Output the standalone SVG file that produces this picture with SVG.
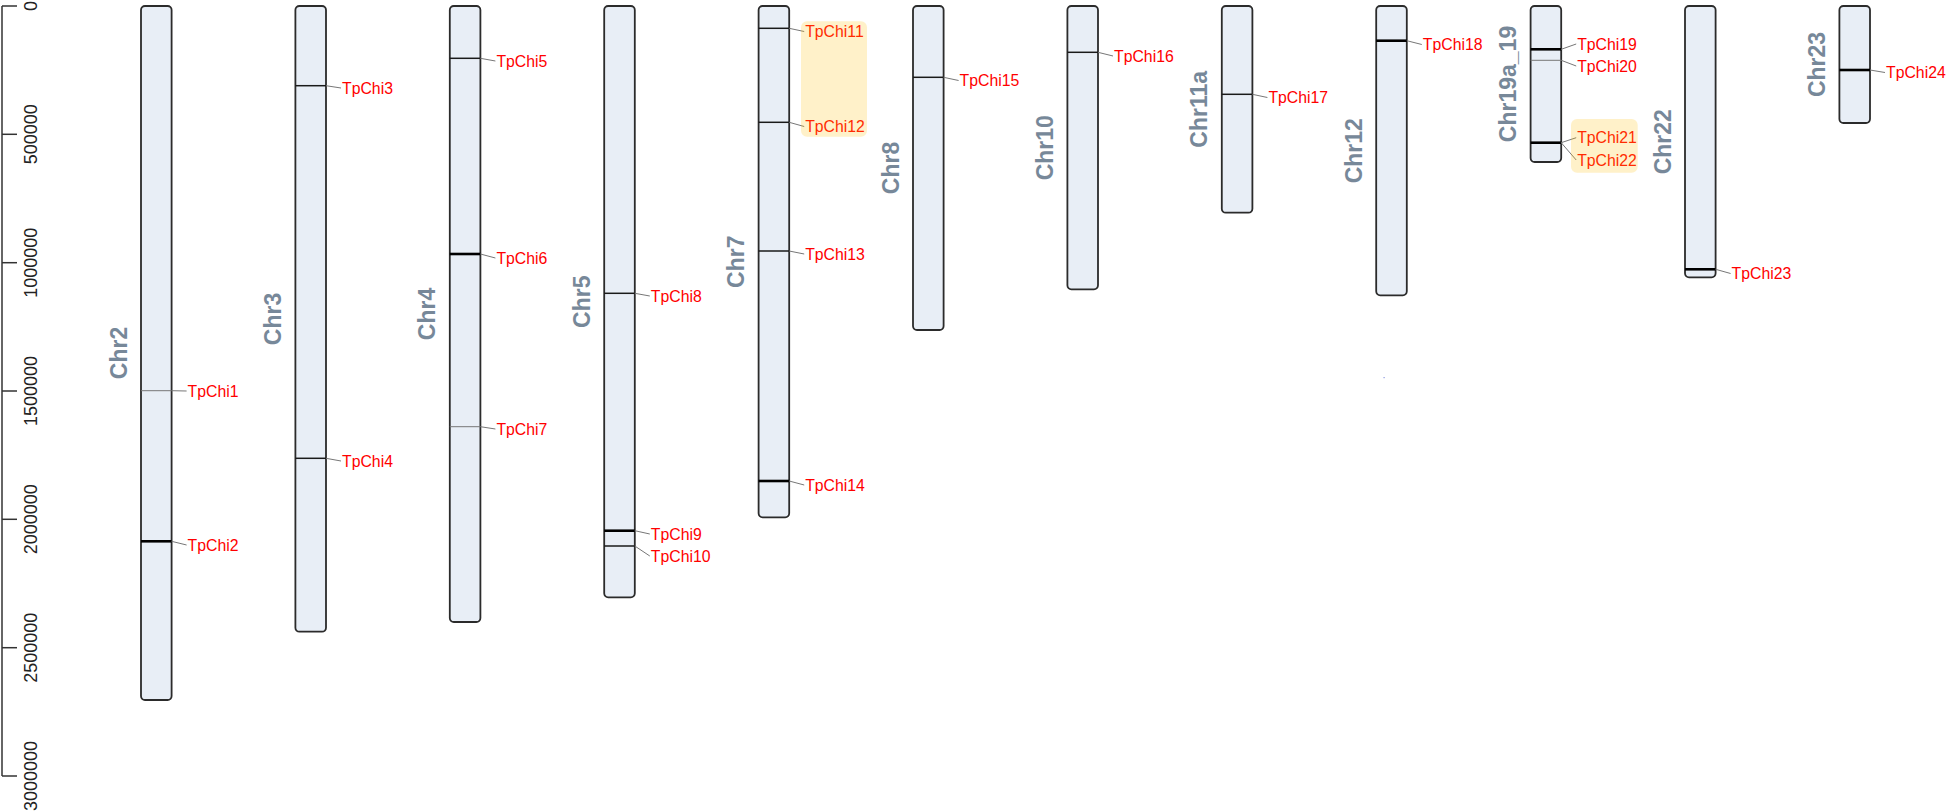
<svg xmlns="http://www.w3.org/2000/svg" width="1946" height="812" viewBox="0 0 1946 812">
<style>
.chr{fill:#e8eef6;stroke:#2b2b2b;stroke-width:1.8}
.cl{font-family:"Liberation Sans",Arial,sans-serif;font-weight:bold;font-size:23px;fill:#778899;text-anchor:middle}
.gl{font-family:"Liberation Sans",Arial,sans-serif;font-size:15.8px;fill:#ff0000}
.ax{font-family:"Liberation Sans",Arial,sans-serif;font-size:18px;fill:#222;text-anchor:middle}
.bt{stroke:#000;stroke-width:2.6}
.bm{stroke:#1a1a1a;stroke-width:1.5}
.bs{stroke:#777;stroke-width:1}
.con{stroke:#777;stroke-width:1;fill:none}
.hl{fill:#ffc107;fill-opacity:0.22}
</style>
<g id="axis" stroke="#333" stroke-width="1.5" fill="none">
<line x1="2" y1="6" x2="2" y2="776"/>
<line x1="2" y1="6" x2="17" y2="6"/>
<line x1="2" y1="134.3" x2="17" y2="134.3"/>
<line x1="2" y1="262.7" x2="17" y2="262.7"/>
<line x1="2" y1="391" x2="17" y2="391"/>
<line x1="2" y1="519.3" x2="17" y2="519.3"/>
<line x1="2" y1="647.7" x2="17" y2="647.7"/>
<line x1="2" y1="776" x2="17" y2="776"/>
</g>
<g id="axis-labels">
<text class="ax" transform="translate(37,6) rotate(-90)">0</text>
<text class="ax" transform="translate(37,134.3) rotate(-90)">500000</text>
<text class="ax" transform="translate(37,262.7) rotate(-90)">1000000</text>
<text class="ax" transform="translate(37,391) rotate(-90)">1500000</text>
<text class="ax" transform="translate(37,519.3) rotate(-90)">2000000</text>
<text class="ax" transform="translate(37,647.7) rotate(-90)">2500000</text>
<text class="ax" transform="translate(37,776) rotate(-90)">3000000</text>
</g>
<g id="chr2">
<rect class="chr" x="141" y="6" width="30.6" height="694" rx="4"/>
<text class="cl" transform="translate(126.5,353) rotate(-90)">Chr2</text>
<line class="bs" x1="141" y1="390.7" x2="171.6" y2="390.7"/>
<line class="bt" x1="141" y1="541.3" x2="171.6" y2="541.3"/>
<text class="gl" x="187.6" y="396.5">TpChi1</text>
<text class="gl" x="187.6" y="550.5">TpChi2</text>
</g>
<g id="chr3">
<rect class="chr" x="295.4" y="6" width="30.6" height="625.7" rx="4"/>
<text class="cl" transform="translate(280.9,319) rotate(-90)">Chr3</text>
<line class="bm" x1="295.4" y1="85.7" x2="326" y2="85.7"/>
<line class="bm" x1="295.4" y1="458.3" x2="326" y2="458.3"/>
<text class="gl" x="342" y="93.5">TpChi3</text>
<text class="gl" x="342" y="466.5">TpChi4</text>
</g>
<g id="chr4">
<rect class="chr" x="449.8" y="6" width="30.6" height="616" rx="4"/>
<text class="cl" transform="translate(435.3,314) rotate(-90)">Chr4</text>
<line class="bm" x1="449.8" y1="58.3" x2="480.4" y2="58.3"/>
<line class="bt" x1="449.8" y1="254" x2="480.4" y2="254"/>
<line class="bs" x1="449.8" y1="426.7" x2="480.4" y2="426.7"/>
<text class="gl" x="496.4" y="66.5">TpChi5</text>
<text class="gl" x="496.4" y="263.5">TpChi6</text>
<text class="gl" x="496.4" y="434.5">TpChi7</text>
</g>
<g id="chr5">
<rect class="chr" x="604.2" y="6" width="30.6" height="591.3" rx="4"/>
<text class="cl" transform="translate(589.7,301.7) rotate(-90)">Chr5</text>
<line class="bm" x1="604.2" y1="293.3" x2="634.8" y2="293.3"/>
<line class="bt" x1="604.2" y1="530.7" x2="634.8" y2="530.7"/>
<line class="bm" x1="604.2" y1="546" x2="634.8" y2="546"/>
<text class="gl" x="650.8" y="301.5">TpChi8</text>
<text class="gl" x="650.8" y="539.5">TpChi9</text>
<text class="gl" x="650.8" y="561.5">TpChi10</text>
</g>
<g id="chr7">
<rect class="chr" x="758.6" y="6" width="30.6" height="511.3" rx="4"/>
<text class="cl" transform="translate(744.1,261.7) rotate(-90)">Chr7</text>
<line class="bm" x1="758.6" y1="28.3" x2="789.2" y2="28.3"/>
<line class="bm" x1="758.6" y1="122.3" x2="789.2" y2="122.3"/>
<line class="bm" x1="758.6" y1="251" x2="789.2" y2="251"/>
<line class="bt" x1="758.6" y1="481" x2="789.2" y2="481"/>
<text class="gl" x="805.2" y="37">TpChi11</text>
<text class="gl" x="805.2" y="132">TpChi12</text>
<text class="gl" x="805.2" y="259.5">TpChi13</text>
<text class="gl" x="805.2" y="490.5">TpChi14</text>
</g>
<g id="chr8">
<rect class="chr" x="913" y="6" width="30.6" height="324" rx="4"/>
<text class="cl" transform="translate(898.5,168) rotate(-90)">Chr8</text>
<line class="bm" x1="913" y1="77.3" x2="943.6" y2="77.3"/>
<text class="gl" x="959.6" y="86">TpChi15</text>
</g>
<g id="chr10">
<rect class="chr" x="1067.4" y="6" width="30.6" height="283.3" rx="4"/>
<text class="cl" transform="translate(1052.9,147.7) rotate(-90)">Chr10</text>
<line class="bm" x1="1067.4" y1="52.3" x2="1098" y2="52.3"/>
<text class="gl" x="1114" y="61.5">TpChi16</text>
</g>
<g id="chr11a">
<rect class="chr" x="1221.8" y="6" width="30.6" height="206.7" rx="4"/>
<text class="cl" transform="translate(1207.3,109.3) rotate(-90)">Chr11a</text>
<line class="bm" x1="1221.8" y1="94.3" x2="1252.4" y2="94.3"/>
<text class="gl" x="1268.4" y="103">TpChi17</text>
</g>
<g id="chr12">
<rect class="chr" x="1376.2" y="6" width="30.6" height="289.3" rx="4"/>
<text class="cl" transform="translate(1361.7,150.7) rotate(-90)">Chr12</text>
<line class="bt" x1="1376.2" y1="40.7" x2="1406.8" y2="40.7"/>
<text class="gl" x="1422.8" y="50">TpChi18</text>
</g>
<g id="chr19a_19">
<rect class="chr" x="1530.6" y="6" width="30.6" height="156" rx="4"/>
<text class="cl" transform="translate(1516.1,84) rotate(-90)">Chr19a_19</text>
<line class="bt" x1="1530.6" y1="49.3" x2="1561.2" y2="49.3"/>
<line class="bs" x1="1530.6" y1="60.3" x2="1561.2" y2="60.3"/>
<line class="bt" x1="1530.6" y1="142.7" x2="1561.2" y2="142.7"/>
<text class="gl" x="1577.2" y="49.5">TpChi19</text>
<text class="gl" x="1577.2" y="71.5">TpChi20</text>
<text class="gl" x="1577.2" y="143.2">TpChi21</text>
<text class="gl" x="1577.2" y="165.5">TpChi22</text>
</g>
<g id="chr22">
<rect class="chr" x="1685" y="6" width="30.6" height="271.3" rx="4"/>
<text class="cl" transform="translate(1670.5,141.7) rotate(-90)">Chr22</text>
<line class="bt" x1="1685" y1="269.3" x2="1715.6" y2="269.3"/>
<text class="gl" x="1731.6" y="279">TpChi23</text>
</g>
<g id="chr23">
<rect class="chr" x="1839.4" y="6" width="30.6" height="117" rx="4"/>
<text class="cl" transform="translate(1824.9,64.5) rotate(-90)">Chr23</text>
<line class="bt" x1="1839.4" y1="70" x2="1870" y2="70"/>
<text class="gl" x="1886" y="78">TpChi24</text>
</g>
<g id="connectors">
<line class="con" x1="171.6" y1="390.7" x2="186.6" y2="391"/>
<line class="con" x1="171.6" y1="541.3" x2="186.6" y2="545"/>
<line class="con" x1="326" y1="85.7" x2="341" y2="88"/>
<line class="con" x1="326" y1="458.3" x2="341" y2="461"/>
<line class="con" x1="480.4" y1="58.3" x2="495.4" y2="61"/>
<line class="con" x1="480.4" y1="254" x2="495.4" y2="258"/>
<line class="con" x1="480.4" y1="426.7" x2="495.4" y2="429"/>
<line class="con" x1="634.8" y1="293.3" x2="649.8" y2="296"/>
<line class="con" x1="634.8" y1="530.7" x2="649.8" y2="534"/>
<line class="con" x1="634.8" y1="546" x2="649.8" y2="556"/>
<line class="con" x1="789.2" y1="28.3" x2="804.2" y2="31.5"/>
<line class="con" x1="789.2" y1="122.3" x2="804.2" y2="126.5"/>
<line class="con" x1="789.2" y1="251" x2="804.2" y2="254"/>
<line class="con" x1="789.2" y1="481" x2="804.2" y2="485"/>
<line class="con" x1="943.6" y1="77.3" x2="958.6" y2="80.5"/>
<line class="con" x1="1098" y1="52.3" x2="1113" y2="56"/>
<line class="con" x1="1252.4" y1="94.3" x2="1267.4" y2="97.5"/>
<line class="con" x1="1406.8" y1="40.7" x2="1421.8" y2="44.5"/>
<line class="con" x1="1561.2" y1="49.3" x2="1576.2" y2="44"/>
<line class="con" x1="1561.2" y1="60.3" x2="1576.2" y2="66"/>
<line class="con" x1="1561.2" y1="142.7" x2="1576.2" y2="137.7"/>
<line class="con" x1="1561.2" y1="142.7" x2="1576.2" y2="160"/>
<line class="con" x1="1715.6" y1="269.3" x2="1730.6" y2="273.5"/>
<line class="con" x1="1870" y1="70" x2="1885" y2="72.5"/>
</g>
<g id="highlights">
<rect class="hl" x="801" y="21.3" width="66" height="115.4" rx="6"/>
<rect class="hl" x="1571" y="119" width="66.7" height="53.7" rx="6"/>
</g>
<rect x="1383.5" y="377" width="1.2" height="1.2" fill="#8a97e0"/>
</svg>
